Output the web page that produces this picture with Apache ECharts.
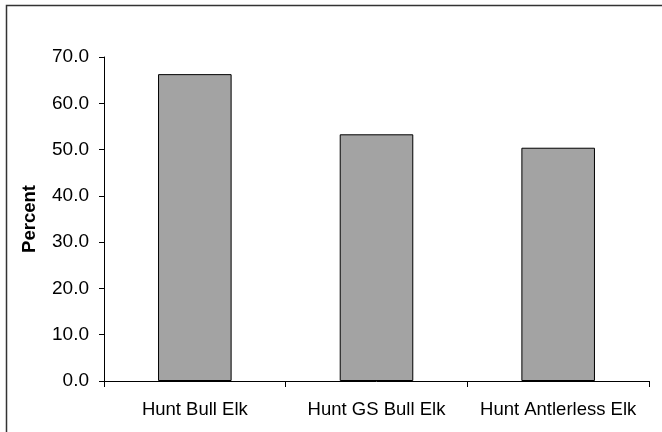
<!DOCTYPE html>
<html>
<head>
<meta charset="utf-8">
<script src="https://cdn.jsdelivr.net/npm/echarts@6/dist/echarts.min.js"></script>
<style>
html,body{margin:0;padding:0;background:#fff;}
#c{width:662px;height:432px;}
</style>
</head>
<body>
<div id="c"></div>
<script>
var categories = ['Hunt Bull Elk', 'Hunt GS Bull Elk', 'Hunt Antlerless Elk'];
var percentValues = [66.3, 53.3, 50.4];
var yAxisName = 'Percent';

var chart = echarts.init(document.getElementById('c'), null, {renderer: 'canvas'});
var font = '"Liberation Sans", Arial, sans-serif';
chart.setOption({
  animation: false,
  backgroundColor: '#ffffff',
  graphic: [{
    type: 'polyline',
    shape: {points: [[6.5, 432], [6.5, 5.5], [662, 5.5]]},
    style: {stroke: '#333', lineWidth: 1.5, fill: null},
    silent: true
  }],
  grid: {left: 104, right: 13, top: 57, bottom: 51, containLabel: false},
  xAxis: {
    type: 'category',
    data: categories,
    boundaryGap: true,
    axisLine: {show: true, lineStyle: {color: '#000', width: 1}},
    axisTick: {show: true, alignWithLabel: false, length: 6, lineStyle: {color: '#000'}},
    axisLabel: {color: '#000', fontFamily: font, fontSize: 18.5, margin: 19, interval: 0},
    splitLine: {show: false}
  },
  yAxis: {
    type: 'value',
    min: 0, max: 70, interval: 10,
    name: yAxisName,
    nameLocation: 'middle',
    nameGap: 65,
    nameRotate: 90,
    nameTextStyle: {color: '#000', fontFamily: font, fontSize: 18.5, fontWeight: 'bold'},
    axisLine: {show: true, lineStyle: {color: '#000', width: 1}},
    axisTick: {show: true, length: 5, lineStyle: {color: '#000'}},
    axisLabel: {color: '#000', fontFamily: font, fontSize: 19, margin: 15,
      formatter: function (v) { return v.toFixed(1); }},
    splitLine: {show: false}
  },
  series: [{
    type: 'bar',
    data: percentValues,
    barWidth: '40.5%',
    itemStyle: {color: '#a3a3a3', borderColor: '#000', borderWidth: 1}
  }]
});
</script>
</body>
</html>
